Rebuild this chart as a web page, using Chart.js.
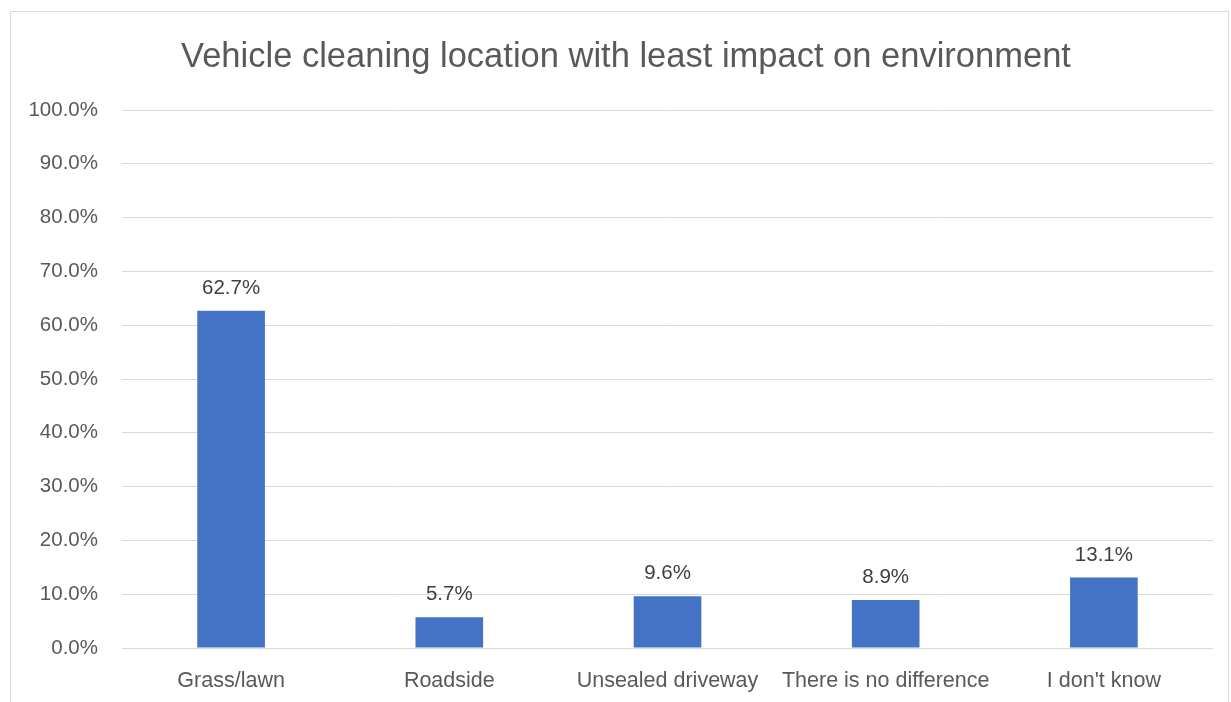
<!DOCTYPE html>
<html>
<head>
<meta charset="utf-8">
<script src="https://cdn.jsdelivr.net/npm/chart.js@4/dist/chart.umd.min.js"></script>
<style>
html,body{margin:0;padding:0;background:#fff;}
#wrap{position:relative;width:1231px;height:702px;}
</style>
</head>
<body>
<div id="wrap"><canvas id="c" width="1231" height="702"></canvas></div>
<script>
const chartTitle = 'Vehicle cleaning location with least impact on environment';
const categories = ['Grass/lawn', 'Roadside', 'Unsealed driveway', 'There is no difference', "I don't know"];
const values = [62.7, 5.7, 9.6, 8.9, 13.1];
const yTicks = [0, 10, 20, 30, 40, 50, 60, 70, 80, 90, 100];

const FONT = "'Liberation Sans', Arial, sans-serif";

const decorPlugin = {
  id: 'decor',
  beforeDraw(chart) {
    const ctx = chart.ctx;
    ctx.save();
    ctx.fillStyle = '#fff';
    ctx.fillRect(0, 0, chart.width, chart.height);
    ctx.strokeStyle = '#d9d9d9';
    ctx.lineWidth = 1;
    ctx.strokeRect(10.5, 11.5, 1218, 720);
    ctx.restore();
  },
  afterDraw(chart) {
    const ctx = chart.ctx;
    ctx.save();
    ctx.fillStyle = '#595959';
    ctx.font = '34.5px ' + FONT;
    ctx.textAlign = 'center';
    ctx.textBaseline = 'middle';
    ctx.fillText(chartTitle, 626, 57);
    const meta = chart.getDatasetMeta(0);
    ctx.fillStyle = '#404040';
    ctx.font = '20.5px ' + FONT;
    ctx.textBaseline = 'alphabetic';
    meta.data.forEach((bar, i) => {
      ctx.fillText(values[i].toFixed(1) + '%', bar.x, bar.y - 17);
    });
    ctx.restore();
  }
};

new Chart(document.getElementById('c'), {
  type: 'bar',
  data: {
    labels: categories,
    datasets: [{
      data: values,
      backgroundColor: '#4472c4',
      borderWidth: 0,
      categoryPercentage: 1,
      barPercentage: 0.31
    }]
  },
  options: {
    responsive: false,
    animation: false,
    layout: { padding: { top: 110, left: 0, right: 18, bottom: 0 } },
    plugins: { legend: { display: false }, title: { display: false }, tooltip: { enabled: false } },
    scales: {
      y: {
        min: 0, max: 100,
        afterBuildTicks(scale) { scale.ticks = yTicks.map(v => ({ value: v })); },
        afterFit(scale) { scale.width = 122; },
        grid: { color: '#d9d9d9', lineWidth: 1, drawTicks: false },
        border: { display: false },
        ticks: {
          padding: 24,
          color: '#595959',
          font: { family: FONT, size: 20.5 },
          callback: v => Number(v).toFixed(1) + '%'
        }
      },
      x: {
        afterFit(scale) { scale.height = 54; },
        grid: { display: false, drawTicks: false },
        border: { display: false },
        ticks: {
          padding: 20,
          color: '#595959',
          font: { family: FONT, size: 21.5 },
          maxRotation: 0,
          autoSkip: false
        }
      }
    }
  },
  plugins: [decorPlugin]
});
</script>
</body>
</html>
